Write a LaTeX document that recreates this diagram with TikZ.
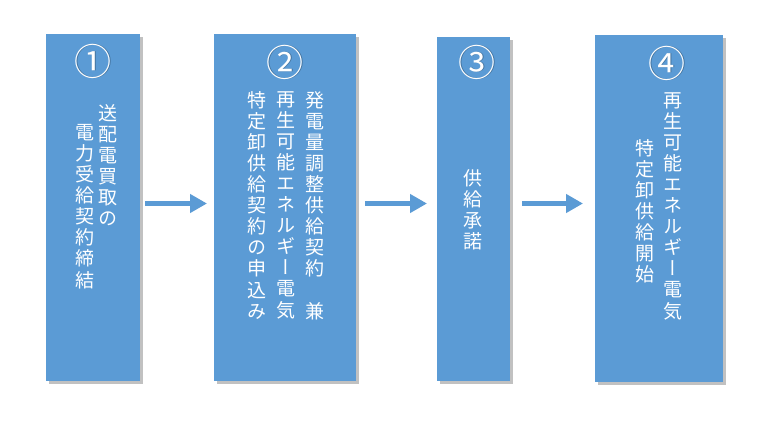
\documentclass[tikz,border=0pt]{standalone}
\usepackage{fontspec}
\usetikzlibrary{shadows,arrows.meta}
\newfontfamily\jpv[RawFeature=+vert]{Noto Sans CJK JP}
\newfontfamily\jpn{Noto Sans CJK JP}
\definecolor{boxblue}{HTML}{5B9BD5}
\tikzset{
  stepbox/.style={draw=none, fill=boxblue, drop shadow={shadow xshift=3pt, shadow yshift=-3pt, opacity=0.4, fill=black!60}},
  vtext/.style={text=white, align=center, inner sep=0pt, anchor=north, font=\jpv\fontsize{19}{21.1}\selectfont},
  numtext/.style={text=white, inner sep=0pt, font=\jpn\fontsize{37}{40}\selectfont},
  numshadow/.style={text=black, opacity=0.25, inner sep=0pt, font=\jpn\fontsize{37}{40}\selectfont},
  flow/.style={draw=boxblue, line width=5.5pt, -{Triangle[length=17pt,width=18pt]}}
}
\begin{document}
\begin{tikzpicture}[x=1pt,y=-1pt]
\useasboundingbox (0,0) rectangle (770,431);
\fill[white] (0,0) rectangle (770,431);
% boxes
\path[stepbox] (46,34) rectangle (140,381);
\path[stepbox] (214,34) rectangle (356,381);
\path[stepbox] (437,37) rectangle (510,381);
\path[stepbox] (595,35) rectangle (723,382);
\node[minimum width=94pt, minimum height=347pt, inner sep=0pt] (b1) at (93,207.5) {};
\node[minimum width=142pt, minimum height=347pt, inner sep=0pt] (b2) at (285,207.5) {};
\node[minimum width=73pt, minimum height=344pt, inner sep=0pt] (b3) at (473.5,209) {};
\node[minimum width=128pt, minimum height=347pt, inner sep=0pt] (b4) at (659,208.5) {};
% numbers
\node[numshadow] (n1s) at (93.8,61.8) {①};
\node[numtext] (n1) at (93,61) {①};
\node[numshadow] (n2s) at (285.8,62.8) {②};
\node[numtext] (n2) at (285,62) {②};
\node[numshadow] (n3s) at (477.8,62.8) {③};
\node[numtext] (n3) at (477,62) {③};
\node[numshadow] (n4s) at (667.8,63.8) {④};
\node[numtext] (n4) at (667,63) {④};
% texts
\node[vtext] (t1a) at (108,104) {送\\配\\電\\買\\取\\の};
\node[vtext] (t1b) at (85,124) {電\\力\\受\\給\\契\\約\\締\\結};
\node[vtext] (t2a) at (315,91) {発\\電\\量\\調\\整\\供\\給\\契\\約\\　\\兼};
\node[vtext] (t2b) at (286,91) {再\\生\\可\\能\\エ\\ネ\\ル\\ギ\\ー\\電\\気};
\node[vtext] (t2c) at (257,91) {特\\定\\卸\\供\\給\\契\\約\\の\\申\\込\\み};
\node[vtext] (t3) at (473,169) {供\\給\\承\\諾};
\node[vtext] (t4a) at (673,92) {再\\生\\可\\能\\エ\\ネ\\ル\\ギ\\ー\\電\\気};
\node[vtext] (t4b) at (645,139) {特\\定\\卸\\供\\給\\開\\始};
% arrows
\coordinate (a1s) at (145,203.5);
\coordinate (a1e) at (207,203.5);
\coordinate (a2s) at (365,203.5);
\coordinate (a2e) at (427,203.5);
\coordinate (a3s) at (522,203.5);
\coordinate (a3e) at (583,203.5);
\draw[flow] (a1s) -- (a1e);
\draw[flow] (a2s) -- (a2e);
\draw[flow] (a3s) -- (a3e);
\end{tikzpicture}
\end{document}
